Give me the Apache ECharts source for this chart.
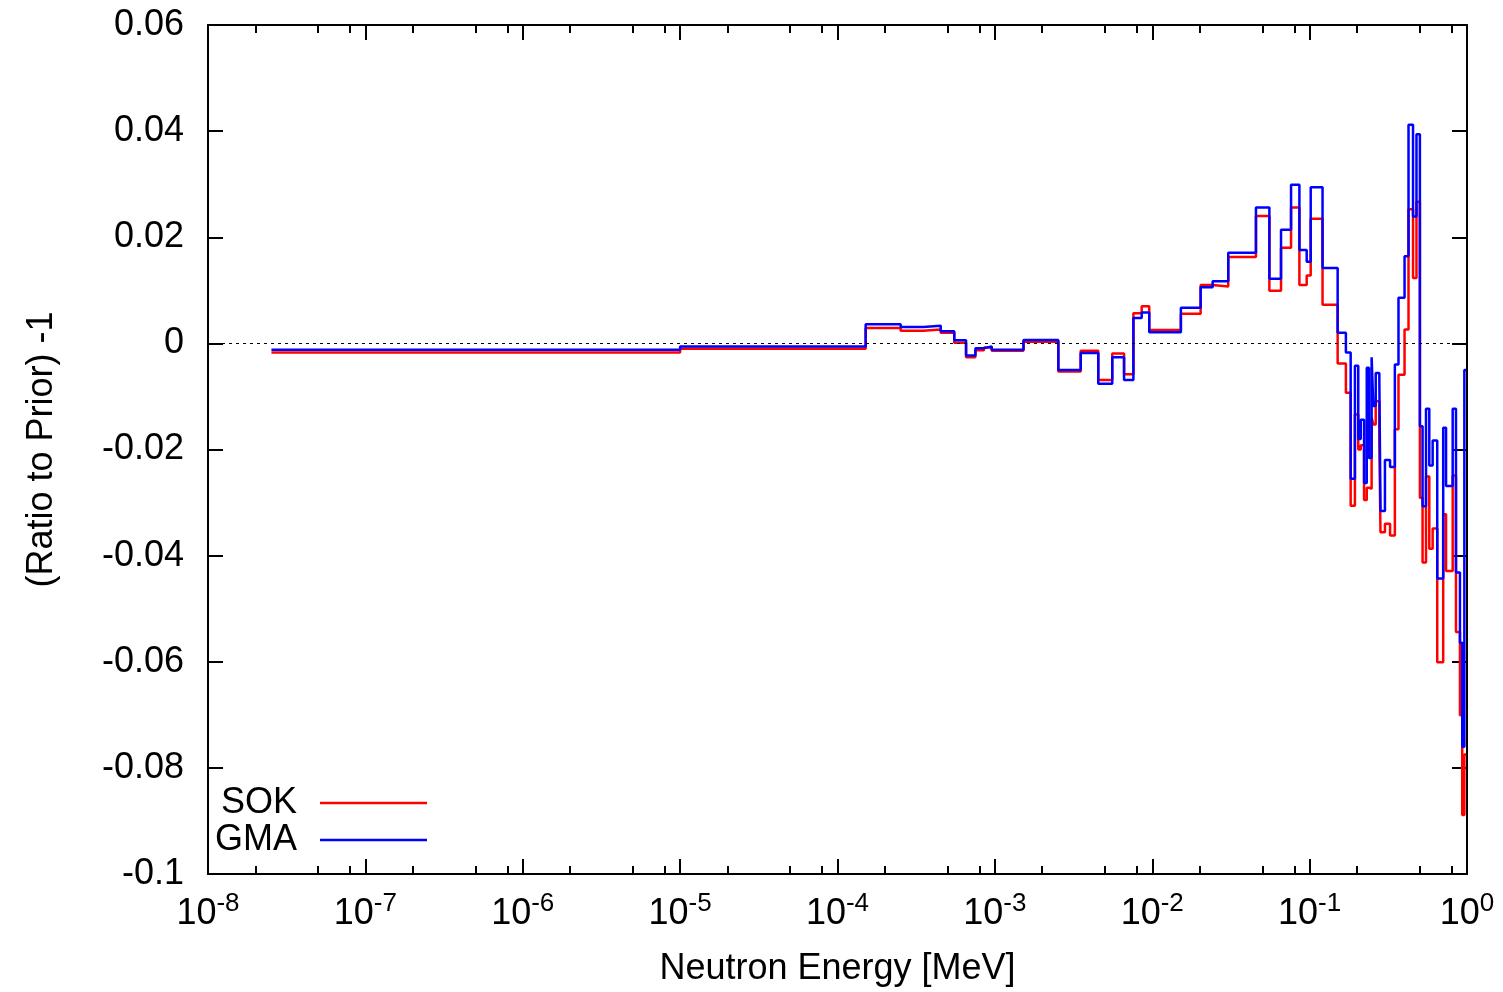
<!DOCTYPE html>
<html>
<head>
<meta charset="utf-8">
<script src="https://cdn.jsdelivr.net/npm/echarts@6/dist/echarts.min.js"></script>
<style>
html,body{margin:0;padding:0;background:#fff;}
#chart{width:1503px;height:992px;}
</style>
</head>
<body>
<div id="chart"></div>
<script>
// Bin lower edges (MeV) plus final upper edge
const energyEdges = [2.53e-8, 1e-5, 1.51e-4, 2.52e-4, 3.51e-4, 4.53e-4, 5.52e-4, 6.56e-4, 7.52e-4, 8.53e-4,
  9.55e-4, 1.52e-3, 2.53e-3, 3.51e-3, 4.54e-3, 5.57e-3, 6.62e-3, 7.59e-3, 8.57e-3, 9.57e-3,
  1.52e-2, 2.03e-2, 2.42e-2, 3.04e-2, 4.56e-2, 5.55e-2, 6.58e-2, 7.62e-2, 8.61e-2, 9.58e-2,
  0.1016, 0.1208, 0.1507, 0.170, 0.1823, 0.194, 0.2037, 0.2113, 0.2218, 0.2307,
  0.2383, 0.2477, 0.254, 0.263, 0.2773, 0.282, 0.301, 0.3245, 0.348, 0.367,
  0.401, 0.425, 0.454, 0.4775, 0.502, 0.522, 0.549, 0.576, 0.605, 0.647,
  0.706, 0.736, 0.811, 0.851, 0.902, 0.933, 0.962, 0.99];

const sokValues = [-0.0017, -0.0010, 0.0029, 0.0024, 0.0026, 0.0020, 0.0001, -0.0026, -0.0013, -0.0008,
  -0.0014, 0.0003, -0.0053, -0.0014, -0.0069, -0.0019, -0.0058, 0.0057, 0.0070, 0.0025,
  0.0056, 0.0110, 0.0107, 0.0163, 0.0240, 0.0099, 0.0180, 0.0256, 0.0110, 0.0128,
  0.0235, 0.0073, -0.0038, -0.0093, -0.0306, -0.0134, -0.0200, -0.0192, -0.0295, -0.0272,
  -0.0274, -0.0140, -0.0153, -0.0109, -0.0181, -0.0356, -0.0340, -0.0362, -0.0162, -0.0059,
  0.0026, 0.0253, 0.0123, 0.0267, -0.0291, -0.0413, -0.0251, -0.0387, -0.0349, -0.0601,
  -0.0322, -0.0429, -0.0249, -0.0544, -0.0701, -0.0889, -0.0775];

const gmaValues = [-0.0012, -0.0006, 0.0036, 0.0031, 0.0033, 0.0023, 0.0006, -0.0023, -0.0009, -0.0006,
  -0.0012, 0.00065, -0.0050, -0.0018, -0.0076, -0.0026, -0.0069, 0.0048, 0.0058, 0.0021,
  0.0067, 0.0106, 0.0117, 0.0171, 0.0256, 0.0122, 0.0214, 0.0299, 0.0176, 0.0154,
  0.0294, 0.0142, 0.0020, -0.0017, -0.0255, -0.0042, -0.0180, -0.0144, -0.0263, -0.0046,
  -0.0216, -0.0026, -0.0118, -0.0056, -0.0068, -0.0316, -0.0220, -0.0233, -0.0040, 0.0086,
  0.0164, 0.0412, 0.0239, 0.0394, -0.0156, -0.0307, -0.0123, -0.0230, -0.0183, -0.0443,
  -0.0159, -0.0269, -0.0123, -0.0432, -0.0564, -0.0760, -0.0050];

const seriesNames = ['SOK', 'GMA'];
const seriesColors = ['#ff0000', '#0000ff'];
const yTicks = [-0.1, -0.08, -0.06, -0.04, -0.02, 0, 0.02, 0.04, 0.06];
const xMajorExponents = [-8, -7, -6, -5, -4, -3, -2, -1, 0];
const xMinorMantissas = [2, 5, 8];
const xAxisTitle = 'Neutron Energy [MeV]';
const yAxisTitle = '(Ratio to Prior) -1';

function stepPoints(edges, vals) {
  const pts = vals.map((v, i) => [edges[i], v]);
  pts.push([edges[vals.length], vals[vals.length - 1]]);
  return pts;
}

const minorLogPositions = [];
xMajorExponents.slice(0, -1).forEach(e => xMinorMantissas.forEach(m => minorLogPositions.push(e + Math.log10(m))));

const FONT = '"Liberation Sans", Arial, sans-serif';
const chart = echarts.init(document.getElementById('chart'), null, {renderer: 'canvas'});

const majorX = {
  type: 'log', logBase: 10, min: 1e-8, max: 1, interval: 1,
  axisLine: {show: true, onZero: false, lineStyle: {color: '#000', width: 2}},
  axisTick: {show: true, inside: true, length: 15, lineStyle: {color: '#000', width: 2}},
  splitLine: {show: false}, minorTick: {show: false}
};
const minorX = {
  type: 'value', min: -8, max: 0,
  axisLine: {show: false, onZero: false}, axisLabel: {show: false}, splitLine: {show: false},
  axisTick: {show: true, inside: true, length: 8, customValues: minorLogPositions, lineStyle: {color: '#000', width: 2}}
};

const option = {
  animation: false,
  backgroundColor: '#fff',
  grid: {left: 208, right: 36, top: 25, bottom: 117, containLabel: false},
  legend: [
    {data: [seriesNames[0]], right: 1076, top: 785, padding: 0, align: 'right', icon: 'rect',
     itemWidth: 107, itemHeight: 2.5, selectedMode: false,
     textStyle: {fontSize: 36, color: '#000', fontFamily: FONT, padding: [0, 18, 0, 0]}},
    {data: [seriesNames[1]], right: 1076, top: 822, padding: 0, align: 'right', icon: 'rect',
     itemWidth: 107, itemHeight: 2.5, selectedMode: false,
     textStyle: {fontSize: 36, color: '#000', fontFamily: FONT, padding: [0, 18, 0, 0]}}
  ],
  xAxis: [
    Object.assign({}, majorX, {
      position: 'bottom',
      name: xAxisTitle, nameLocation: 'middle', nameGap: 77,
      nameTextStyle: {fontSize: 36, color: '#000', fontFamily: FONT},
      axisLabel: {
        show: true, margin: 17, color: '#000', fontFamily: FONT,
        formatter: v => '{b|10}{s|' + Math.round(Math.log10(v)) + '}',
        rich: {
          b: {fontSize: 36, lineHeight: 36, padding: [10, 0, 0, 0], fontFamily: FONT, color: '#000'},
          s: {fontSize: 26, lineHeight: 20, verticalAlign: 'top', fontFamily: FONT, color: '#000'}
        }
      }
    }),
    Object.assign({}, minorX, {position: 'bottom'}),
    Object.assign({}, majorX, {position: 'top', axisLabel: {show: false}}),
    Object.assign({}, minorX, {position: 'top'})
  ],
  yAxis: [
    {
      type: 'value', position: 'left', min: -0.1, max: 0.06, interval: 0.02,
      name: yAxisTitle, nameLocation: 'middle', nameGap: 148, nameRotate: 90,
      nameTextStyle: {fontSize: 36, color: '#000', fontFamily: FONT},
      axisLine: {show: true, onZero: false, lineStyle: {color: '#000', width: 2}},
      axisTick: {show: true, inside: true, length: 15, lineStyle: {color: '#000', width: 2}},
      axisLabel: {show: true, margin: 24, fontSize: 36, color: '#000', fontFamily: FONT,
        formatter: v => String(Number(v.toFixed(2)))},
      splitLine: {show: false}
    },
    {
      type: 'value', position: 'right', min: -0.1, max: 0.06, interval: 0.02,
      axisLine: {show: true, onZero: false, lineStyle: {color: '#000', width: 2}},
      axisTick: {show: true, inside: true, length: 15, lineStyle: {color: '#000', width: 2}},
      axisLabel: {show: false}, splitLine: {show: false}
    }
  ],
  series: [
    {
      name: seriesNames[0], type: 'line', step: 'end', xAxisIndex: 0, yAxisIndex: 0,
      showSymbol: false, symbol: 'none', color: seriesColors[0],
      lineStyle: {color: seriesColors[0], width: 2.5},
      data: stepPoints(energyEdges, sokValues),
      markLine: {
        silent: true, symbol: 'none', label: {show: false},
        lineStyle: {color: '#000', width: 1, type: [3, 4]},
        data: [{yAxis: 0}]
      },
      z: 3
    },
    {
      name: seriesNames[1], type: 'line', step: 'end', xAxisIndex: 0, yAxisIndex: 0,
      showSymbol: false, symbol: 'none', color: seriesColors[1],
      lineStyle: {color: seriesColors[1], width: 2.5},
      data: stepPoints(energyEdges, gmaValues),
      z: 4
    }
  ]
};
chart.setOption(option);
</script>
</body>
</html>
